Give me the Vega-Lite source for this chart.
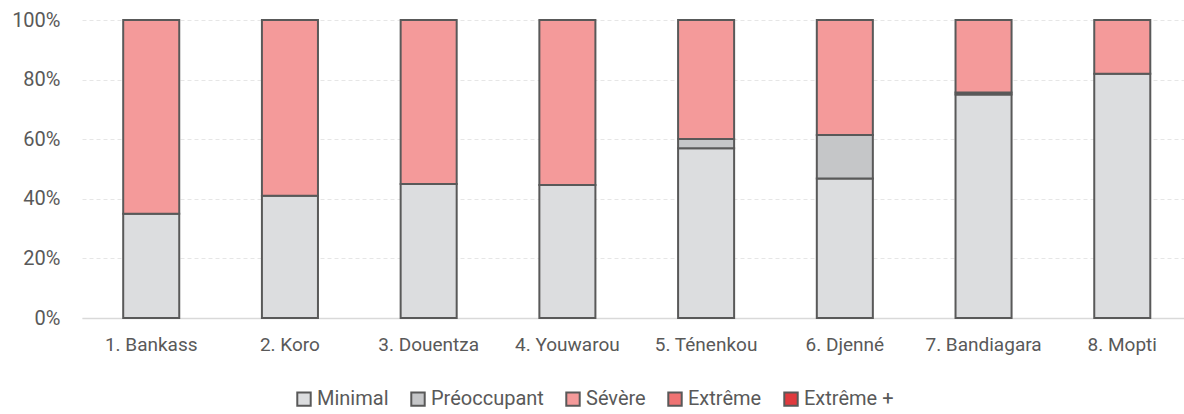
{
  "$schema": "https://vega.github.io/schema/vega-lite/v6.json",
  "autosize": "none",
  "width": 1102,
  "height": 298,
  "padding": {"left": 82, "top": 20, "right": 0, "bottom": 96},
  "background": "white",
  "config": {
    "view": {"stroke": null},
    "font": "Roboto",
    "text": {"font": "Roboto"}
  },
  "data": {
    "values": [
      {"district": "1. Bankass", "phase": "Minimal", "rank": 1, "pct": 35},
      {"district": "1. Bankass", "phase": "Sévère", "rank": 3, "pct": 65},
      {"district": "2. Koro", "phase": "Minimal", "rank": 1, "pct": 41},
      {"district": "2. Koro", "phase": "Sévère", "rank": 3, "pct": 59},
      {"district": "3. Douentza", "phase": "Minimal", "rank": 1, "pct": 45},
      {"district": "3. Douentza", "phase": "Sévère", "rank": 3, "pct": 55},
      {"district": "4. Youwarou", "phase": "Minimal", "rank": 1, "pct": 44.6},
      {"district": "4. Youwarou", "phase": "Sévère", "rank": 3, "pct": 55.4},
      {"district": "5. Ténenkou", "phase": "Minimal", "rank": 1, "pct": 57},
      {"district": "5. Ténenkou", "phase": "Préoccupant", "rank": 2, "pct": 3.1},
      {"district": "5. Ténenkou", "phase": "Sévère", "rank": 3, "pct": 39.9},
      {"district": "6. Djenné", "phase": "Minimal", "rank": 1, "pct": 46.8},
      {"district": "6. Djenné", "phase": "Préoccupant", "rank": 2, "pct": 14.6},
      {"district": "6. Djenné", "phase": "Sévère", "rank": 3, "pct": 38.6},
      {"district": "7. Bandiagara", "phase": "Minimal", "rank": 1, "pct": 75},
      {"district": "7. Bandiagara", "phase": "Préoccupant", "rank": 2, "pct": 0.7},
      {"district": "7. Bandiagara", "phase": "Sévère", "rank": 3, "pct": 24.3},
      {"district": "8. Mopti", "phase": "Minimal", "rank": 1, "pct": 82},
      {"district": "8. Mopti", "phase": "Sévère", "rank": 3, "pct": 18}
    ]
  },
  "mark": {"type": "bar", "stroke": "#595959", "strokeWidth": 2},
  "encoding": {
    "x": {
      "field": "district",
      "type": "nominal",
      "sort": null,
      "scale": {"paddingInner": 0.596, "paddingOuter": 0.27, "align": 0.55},
      "axis": {
        "title": null,
        "labelAngle": 0,
        "ticks": false,
        "domainColor": "#d9d9d9",
        "domainWidth": 1.5,
        "labelColor": "#595959",
        "labelFontSize": 19,
        "labelPadding": 17,
        "labelFont": "Roboto"
      }
    },
    "y": {
      "field": "pct",
      "type": "quantitative",
      "stack": "zero",
      "scale": {"domain": [0, 100], "nice": false},
      "axis": {
        "title": null,
        "values": [0, 20, 40, 60, 80, 100],
        "labelExpr": "datum.value + '%'",
        "ticks": false,
        "domain": false,
        "gridColor": "#e6e6e6",
        "gridDash": [4, 3],
        "gridWidth": 1,
        "labelColor": "#595959",
        "labelFontSize": 20,
        "labelPadding": 22,
        "labelFont": "Roboto"
      }
    },
    "color": {
      "field": "phase",
      "type": "nominal",
      "scale": {
        "domain": ["Minimal", "Préoccupant", "Sévère", "Extrême", "Extrême +"],
        "range": ["#dcdddf", "#c5c6c8", "#f49a9a", "#ef7373", "#e03a3e"]
      },
      "legend": {
        "title": null,
        "orient": "none",
        "direction": "horizontal",
        "legendX": 212,
        "legendY": 369,
        "symbolType": "square",
        "symbolSize": 180,
        "symbolStrokeColor": "#595959",
        "symbolStrokeWidth": 2,
        "symbolOpacity": 1,
        "labelFontSize": 20,
        "labelColor": "#595959",
        "labelFont": "Roboto",
        "labelOffset": 3,
        "columnPadding": 18
      }
    },
    "order": {"field": "rank", "type": "quantitative"}
  }
}
